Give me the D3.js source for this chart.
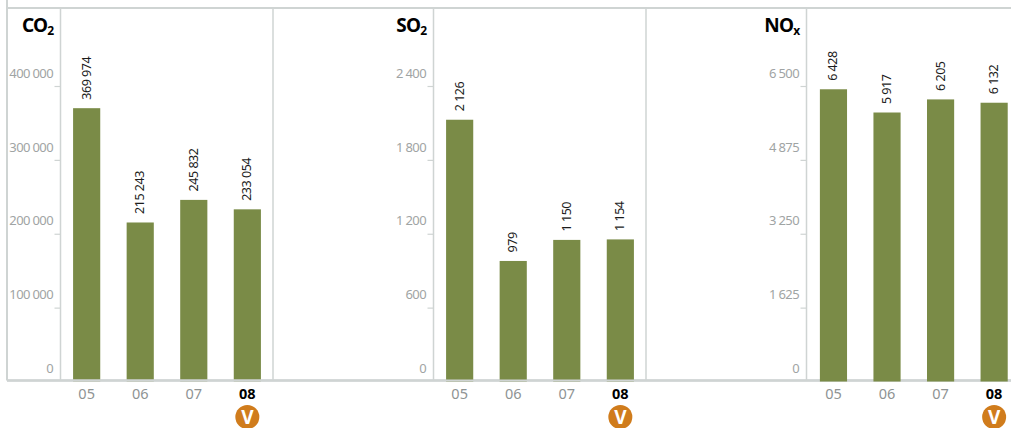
<!DOCTYPE html>
<html>
<head>
<meta charset="utf-8">
<script src="https://cdn.jsdelivr.net/npm/d3@7"></script>
<style>
  html, body { margin: 0; padding: 0; background: #fff; }
  svg { display: block; }
  text { font-family: "Noto Sans", "Open Sans", sans-serif; }
</style>
</head>
<body>
<svg id="chart" width="1011" height="428"></svg>
<script>
// Emissions per year, one panel per pollutant
const years = ["05", "06", "07", "08"];
const highlightYear = "08";

const co2Values = [369974, 215243, 245832, 233054];
const so2Values = [2126, 979, 1150, 1154];
const noxValues = [6428, 5917, 6205, 6132];

const co2Ticks = [0, 100000, 200000, 300000, 400000];
const so2Ticks = [0, 600, 1200, 1800, 2400];
const noxTicks = [0, 1625, 3250, 4875, 6500];

const panels = [
  { name: "CO", sub: "2", values: co2Values, ticks: co2Ticks, axisX: 60.5, barX: 60.5, divider: true },
  { name: "SO", sub: "2", values: so2Values, ticks: so2Ticks, axisX: 433.5, barX: 433.5, divider: true },
  { name: "NO", sub: "x", values: noxValues, ticks: noxTicks, axisX: 806.5, barX: 807.3, divider: false }
];

const LINE = "#cfd4d3", BAR = "#7a8b47", TICK_TEXT = "#9fa4a4", YEAR_TEXT = "#8e9393", BADGE = "#d07c1c";
const TOP = 8, BASE = 380.5, LEFT = 7, PANEL_W = 213;

const grouped = d3.formatLocale({ decimal: ".", thousands: "\u2005", grouping: [3], currency: ["", ""] }).format(",d");
const svg = d3.select("#chart");

// Frame shared by all panels
svg.append("line").attr("x1", LEFT - 1).attr("x2", 1011).attr("y1", TOP).attr("y2", TOP)
  .attr("stroke", LINE).attr("stroke-width", 2);
svg.append("line").attr("x1", LEFT).attr("x2", LEFT).attr("y1", 0).attr("y2", BASE)
  .attr("stroke", LINE).attr("stroke-width", 2);

panels.forEach(p => {
  const g = svg.append("g");
  const y = d3.scaleLinear().domain([0, d3.max(p.ticks)]).range([381.5, 86]);
  const x = d3.scaleBand().domain(years)
    .range([p.barX, p.barX + PANEL_W]).paddingInner(0.493).paddingOuter(0.235);

  // Value axis: short ticks to the left, labels raised above their tick
  const axis = g.append("g").attr("transform", `translate(${p.axisX},0)`)
    .call(d3.axisLeft(y).tickValues(p.ticks).tickSize(6).tickPadding(0).tickFormat(grouped));
  axis.select(".domain").remove();
  axis.selectAll(".tick line").attr("stroke", LINE).attr("stroke-width", 1.2)
    .attr("opacity", d => d === 0 ? 0 : 1);
  axis.selectAll(".tick text")
    .attr("x", -7.5).attr("y", -13).attr("dy", "0.32em")
    .attr("fill", TICK_TEXT).style("font-size", "13px").style("letter-spacing", "-0.6px");

  g.append("line").attr("x1", p.axisX).attr("x2", p.axisX).attr("y1", TOP).attr("y2", BASE)
    .attr("stroke", LINE).attr("stroke-width", 1.5);
  if (p.divider) {
    g.append("line").attr("x1", p.axisX + PANEL_W - 0.5).attr("x2", p.axisX + PANEL_W - 0.5)
      .attr("y1", TOP).attr("y2", BASE).attr("stroke", LINE).attr("stroke-width", 1.5);
  }

  // Pollutant title with subscript
  const title = g.append("text").attr("x", p.axisX - 7).attr("y", 32)
    .attr("text-anchor", "end").attr("fill", "#000")
    .style("font-weight", 700).style("font-size", "19px").style("letter-spacing", "-0.7px");
  title.append("tspan").text(p.name);
  title.append("tspan").attr("dy", 3).style("font-size", "12px").text(p.sub);

  const data = years.map((year, i) => ({ year, value: p.values[i] }));

  g.append("line").attr("x1", LEFT).attr("x2", 1011).attr("y1", BASE).attr("y2", BASE)
    .attr("stroke", LINE).attr("stroke-width", 2);

  g.selectAll("rect").data(data).join("rect")
    .attr("x", d => x(d.year)).attr("width", x.bandwidth())
    .attr("y", d => y(d.value)).attr("height", d => y(0) - y(d.value))
    .attr("fill", BAR);

  // Rotated value labels above each bar
  g.selectAll("text.value").data(data).join("text").attr("class", "value")
    .attr("transform", d => `translate(${x(d.year) + x.bandwidth() / 2 + 4},${y(d.value) - 8.5}) rotate(-90)`)
    .attr("fill", "#1c1c1c").style("font-size", "12.5px").style("letter-spacing", "-0.45px")
    .text(d => grouped(d.value));

  // Year labels under the baseline
  g.selectAll("text.year").data(data).join("text").attr("class", "year")
    .attr("x", d => x(d.year) + x.bandwidth() / 2).attr("y", 399)
    .attr("text-anchor", "middle")
    .attr("fill", d => d.year === highlightYear ? "#000" : YEAR_TEXT)
    .style("font-weight", d => d.year === highlightYear ? 700 : 400)
    .style("font-size", "14.5px")
    .text(d => d.year);

  // Verified-year badge
  const bx = x(highlightYear) + x.bandwidth() / 2;
  g.append("circle").attr("cx", bx).attr("cy", 417).attr("r", 12).attr("fill", BADGE);
  g.append("text").attr("x", bx).attr("y", 423.5).attr("text-anchor", "middle")
    .attr("fill", "#fff").style("font-weight", 700).style("font-size", "19px").text("V");
});
</script>
</body>
</html>
